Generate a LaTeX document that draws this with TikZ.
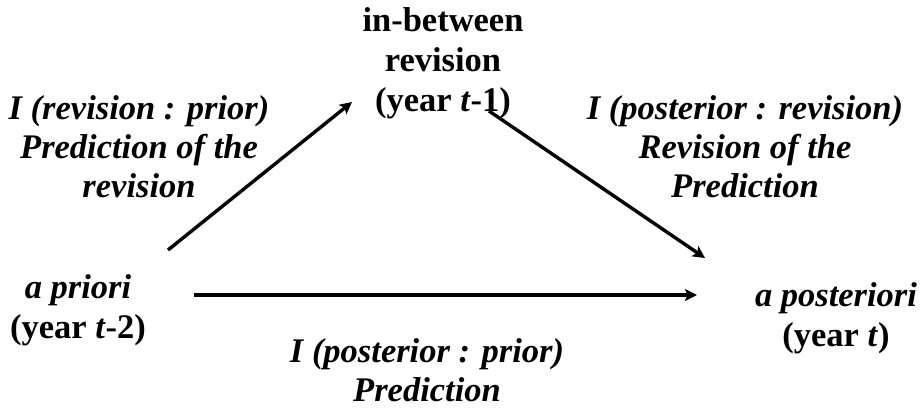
\documentclass[tikz,border=0pt]{standalone}
\usepackage{fontspec}
\setmainfont{Liberation Serif}
\usetikzlibrary{arrows.meta,positioning}

\begin{document}
\begin{tikzpicture}[x=1pt,y=-1pt,
    stage/.style={align=center,inner sep=0pt,
                  font=\fontsize{34.5}{40}\selectfont\bfseries},
    info/.style={stage,font=\fontsize{34.5}{39}\selectfont\bfseries\itshape},
    flow/.style={-{Stealth[length=12pt,width=12pt,inset=2.5pt]},line width=3.4pt}]
  \useasboundingbox (0,0) rectangle (924,408);
  % the three years
  \node[stage] (inb) at (443,63) {in-between\\revision\\(year \textit{t}-1)};
  \node[stage] (prior) at (78,310) {\textit{a priori}\\(year \textit{t}-2)};
  \node[stage] (post) at (836,318) {\textit{a posteriori}\\(year \textit{t})};
  % what each arrow stands for
  \node[info] (irp) at (139,147) {I (revision : prior)\\Prediction of the\\revision};
  \node[info] (ipr) at (745,147) {I (posterior : revision)\\Revision of the\\Prediction};
  \node[info] (ipp) at (427,370) {I (posterior : prior)\\Prediction};
  % arrow ends
  \coordinate (prior-up) at (168,250);
  \coordinate (inb-in) at (352,102);
  \coordinate (inb-out) at (489,111);
  \coordinate (post-in) at (705,258);
  \coordinate (prior-right) at (194,295);
  \coordinate (post-left) at (697,295);
  \draw[flow] (prior-up)--(inb-in);
  \draw[flow] (inb-out)--(post-in);
  \draw[flow] (prior-right)--(post-left);
\end{tikzpicture}
\end{document}
